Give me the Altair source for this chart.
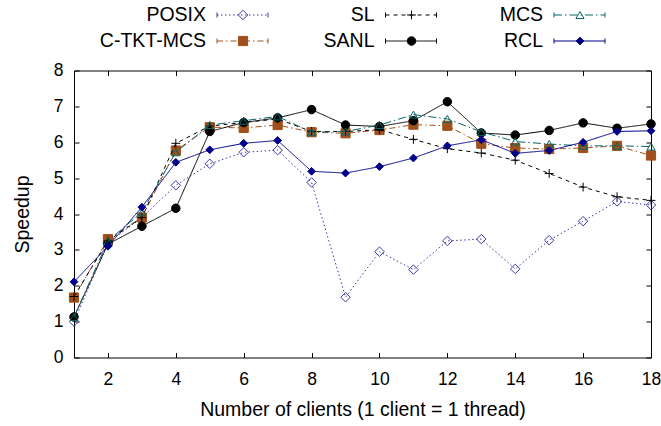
import altair as alt
import pandas as pd

# ---------------- data ----------------
clients = list(range(1, 19))
series_names = ["POSIX", "C-TKT-MCS", "SL", "SANL", "MCS", "RCL"]

posix = [1.00, 3.20, 3.90, 4.80, 5.40, 5.72, 5.78, 4.88, 1.68, 2.95, 2.45, 3.25, 3.30, 2.47, 3.27, 3.80, 4.35, 4.25]
ctkt = [1.67, 3.30, 3.90, 5.77, 6.42, 6.40, 6.48, 6.28, 6.25, 6.34, 6.49, 6.46, 5.96, 5.84, 5.81, 5.84, 5.90, 5.63]
sl = [1.70, 3.25, 3.90, 5.97, 6.45, 6.55, 6.65, 6.30, 6.30, 6.35, 6.08, 5.82, 5.70, 5.50, 5.13, 4.75, 4.48, 4.38]
sanl = [1.13, 3.16, 3.66, 4.16, 6.30, 6.55, 6.68, 6.91, 6.48, 6.44, 6.60, 7.13, 6.26, 6.20, 6.33, 6.54, 6.39, 6.51]
mcs = [1.13, 3.25, 4.05, 5.72, 6.48, 6.60, 6.72, 6.28, 6.30, 6.48, 6.77, 6.65, 6.29, 6.02, 5.95, 5.90, 5.90, 5.88]
rcl = [2.11, 3.10, 4.19, 5.44, 5.79, 5.97, 6.05, 5.19, 5.14, 5.32, 5.56, 5.90, 6.07, 5.69, 5.77, 6.00, 6.30, 6.32]

values = {"POSIX": posix, "C-TKT-MCS": ctkt, "SL": sl, "SANL": sanl, "MCS": mcs, "RCL": rcl}

x_ticks = list(range(2, 19, 2))
y_ticks = list(range(0, 9))

# ---------------- styles ----------------
colors = ["#3a3aa8", "#a0501a", "#000000", "#000000", "#0a6464", "#00008b"]
fills = ["transparent", "#a0501a", "transparent", "#000000", "transparent", "#00008b"]
shapes = ["diamond", "square", "M-1,0H1M0,-1V1", "circle", "triangle-up", "diamond"]
sizes = [90, 60, 90, 165, 70, 90]
dashes = [[1.5, 2.5], [6, 3, 1.5, 3], [4, 4], [1, 0], [8, 3, 1.5, 3], [1, 0]]

FONT = "Liberation Sans"
W, H = 577, 287

rows = []
for s in series_names:
    for c, v in zip(clients, values[s]):
        rows.append({"series": s, "clients": c, "speedup": v})
df = pd.DataFrame(rows)

color_scale = alt.Scale(domain=series_names, range=colors)
fill_scale = alt.Scale(domain=series_names, range=fills)
shape_scale = alt.Scale(domain=series_names, range=shapes)
size_scale = alt.Scale(domain=series_names, range=sizes)
dash_scale = alt.Scale(domain=series_names, range=dashes)

xs = alt.Scale(domain=[1, 18], nice=False, zero=False)
ys = alt.Scale(domain=[0, 8], nice=False, zero=True)


def X(axis=None):
    return alt.X("clients:Q", scale=xs, axis=axis)


def Y(axis=None):
    return alt.Y("speedup:Q", scale=ys, axis=axis)


base = alt.Chart(df)

# axes layers
ax_main = base.mark_point(opacity=0).encode(
    x=X(alt.Axis(values=x_ticks, ticks=False, tickSize=0, domain=False, grid=False,
                 labelFont=FONT, labelFontSize=17.5, labelColor="black", labelPadding=13,
                 labelFlush=False,
                 title="Number of clients (1 client = 1 thread)", titleFont=FONT,
                 titleFontSize=19.5, titleFontWeight="normal", titleColor="black",
                 titlePadding=12)),
    y=Y(alt.Axis(values=y_ticks, ticks=False, tickSize=0, domain=False, grid=False,
                 labelFont=FONT, labelFontSize=17.5, labelColor="black", labelPadding=11,
                 labelFlush=False,
                 title="Speedup", titleFont=FONT, titleFontSize=19.5,
                 titleFontWeight="normal", titleColor="black", titlePadding=21)),
)
ax_in1 = base.mark_point(opacity=0).encode(
    x=X(alt.Axis(orient="top", offset=-H, values=x_ticks, labels=False, domain=False,
                 grid=False, ticks=True, tickSize=5, tickColor="black", title=None)),
    y=Y(alt.Axis(orient="right", offset=-W, values=y_ticks, labels=False, domain=False,
                 grid=False, ticks=True, tickSize=5, tickColor="black", title=None)),
)
ax_in2 = base.mark_point(opacity=0).encode(
    x=X(alt.Axis(orient="bottom", offset=-H, values=x_ticks, labels=False, domain=False,
                 grid=False, ticks=True, tickSize=5, tickColor="black", title=None)),
    y=Y(alt.Axis(orient="left", offset=-W, values=y_ticks, labels=False, domain=False,
                 grid=False, ticks=True, tickSize=5, tickColor="black", title=None)),
)

series_layers = []
for s in series_names:
    sub = base.transform_filter(alt.datum.series == s)
    line = sub.mark_line(strokeWidth=1).encode(
        x=X(), y=Y(),
        color=alt.Color("series:N", scale=color_scale, legend=None),
        strokeDash=alt.StrokeDash("series:N", scale=dash_scale, legend=None),
    )
    pts = sub.mark_point(opacity=1, strokeWidth=1, filled=True).encode(
        x=X(), y=Y(),
        stroke=alt.Stroke("series:N", scale=color_scale, legend=None),
        fill=alt.Fill("series:N", scale=fill_scale, legend=None),
        shape=alt.Shape("series:N", scale=shape_scale, legend=None),
        size=alt.Size("series:N", scale=size_scale, legend=None),
    )
    series_layers += [line, pts]

main = alt.layer(ax_main, ax_in1, ax_in2, *series_layers).resolve_axis(
    x="independent", y="independent")

# ---------------- custom key (gnuplot style) ----------------
leg_df = pd.DataFrame({
    "series": series_names,
    "col": [i // 2 for i in range(len(series_names))],
    "row": [i % 2 for i in range(len(series_names))],
})
lbase = alt.Chart(leg_df)
LX = alt.X("col:Q", scale=alt.Scale(domain=[0, 2], range=[132, 469]), axis=None)
LY = alt.Y("row:Q", scale=alt.Scale(domain=[0, 1], range=[-55.5, -29.5]), axis=None)

leg_text = lbase.mark_text(align="right", baseline="middle", font=FONT, fontSize=19.5,
                           color="black").encode(x=LX, y=LY, text="series:N")
leg_line = lbase.mark_rule(strokeWidth=1, xOffset=11, x2Offset=62).encode(
    x=LX, x2=alt.X2("col:Q"), y=LY,
    color=alt.Color("series:N", scale=color_scale, legend=None),
    strokeDash=alt.StrokeDash("series:N", scale=dash_scale, legend=None),
)
cap_l = lbase.mark_point(shape="M0,-1V1", size=25, xOffset=11, opacity=1,
                         strokeWidth=1, filled=False).encode(
    x=LX, y=LY, stroke=alt.Stroke("series:N", scale=color_scale, legend=None))
cap_r = lbase.mark_point(shape="M0,-1V1", size=25, xOffset=62, opacity=1,
                         strokeWidth=1, filled=False).encode(
    x=LX, y=LY, stroke=alt.Stroke("series:N", scale=color_scale, legend=None))
leg_pt = lbase.mark_point(opacity=1, strokeWidth=1, filled=True, xOffset=37).encode(
    x=LX, y=LY,
    stroke=alt.Stroke("series:N", scale=color_scale, legend=None),
    fill=alt.Fill("series:N", scale=fill_scale, legend=None),
    shape=alt.Shape("series:N", scale=shape_scale, legend=None),
    size=alt.Size("series:N", scale=size_scale, legend=None),
)
legend = alt.layer(leg_text, leg_line, cap_l, cap_r, leg_pt)

chart = alt.layer(main, legend).resolve_scale(
    x="independent", y="independent"
).properties(
    width=W, height=H,
    autosize=alt.AutoSizeParams(type="none"),
    padding={"left": 74, "top": 70.5, "right": 10, "bottom": 68.5},
).configure_view(stroke="black", strokeWidth=1).configure_axis(grid=False)

chart.save("out.html", embed_options={"renderer": "svg", "actions": False})
